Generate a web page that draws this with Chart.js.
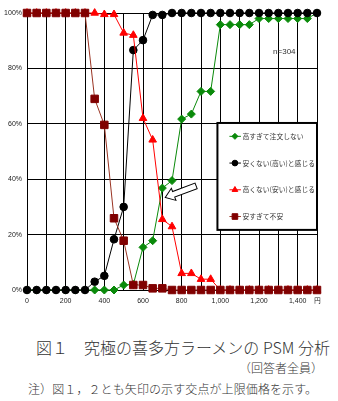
<!DOCTYPE html>
<html><head><meta charset="utf-8">
<script src="https://cdn.jsdelivr.net/npm/chart.js@4/dist/chart.umd.min.js"></script>
<style>
html,body{margin:0;padding:0;background:#fff;}
#wrap{position:relative;width:338px;height:401px;overflow:hidden;}
#c{position:absolute;left:0;top:0;}
.t{position:absolute;white-space:nowrap;line-height:1;color:#333;font-family:'Noto Sans CJK JP',sans-serif;font-weight:300;}
#cap1{left:36px;top:339px;font-size:16px;}
#cap2{right:15px;top:362px;font-size:12px;}
#cap3{left:28px;top:383px;font-size:12px;letter-spacing:0.1px;}
</style></head>
<body>
<div id="wrap">
<canvas id="c" width="338" height="310"></canvas>
<div class="t" id="cap1">図１　究極の喜多方ラーメンの PSM 分析</div>
<div class="t" id="cap2">（回答者全員）</div>
<div class="t" id="cap3">注）図１，２とも矢印の示す交点が上限価格を示す。</div>
</div>
<script>
const prices = [0,50,100,150,200,250,300,350,400,450,500,550,600,650,700,750,800,850,900,950,1000,1050,1100,1150,1200,1250,1300,1350,1400,1450,1500];
const seriesNames = ['高すぎて注文しない','安くない(高い)と感じる','高くない(安い)と感じる','安すぎて不安'];
const tooExpensive = [0,0,0,0,0,0,0,0,0,0,1.8,2,15.4,17.8,36.8,39.5,61.7,63.5,71.7,71.7,95.8,95.8,95.8,95.8,98,98,98,98,98,98,100];
const notCheap = [0,0,0,0,0,0,0,3,5.1,18.3,30,86.6,90.2,99.3,99.3,100,100,100,100,100,100,100,100,100,100,100,100,100,100,100,100];
const notExpensive = [100,100,100,100,100,100,100,100,99.5,99.5,92.8,92,62,54.2,25.5,22.9,6,6,3.9,3.9,0,0,0,0,0,0,0,0,0,0,0];
const tooCheap = [100,100,100,100,100,100,100,69,59.6,25.9,17.8,1.8,1.8,0.6,0.6,0,0,0,0,0,0,0,0,0,0,0,0,0,0,0,0];
const yTicks = [0,20,40,60,80,100];
const xTickLabels = {0:'0',200:'200',400:'400',600:'600',800:'800',1000:'1,000',1200:'1,200',1400:'1,400',1500:'円'};
const sampleNote = 'n=304';

const toPts = arr => prices.map((p,i)=>({x:p,y:arr[i]}));
const styles = [
  {color:'#0a8a0a', line:'#0a8a0a', style:'rectRot', r:4},
  {color:'#000000', line:'#000000', style:'circle', r:3.8},
  {color:'#ff0000', line:'#ff0000', style:'triangle', r:4.4},
  {color:'#800000', line:'#993322', style:'rect', r:5.3}
];
const allData = [tooExpensive, notCheap, notExpensive, tooCheap];
const orders = [3,2,1,0];
const datasets = allData.map((d,i)=>({
  label: seriesNames[i],
  data: toPts(d),
  borderColor: styles[i].line,
  backgroundColor: styles[i].color,
  pointBackgroundColor: styles[i].color,
  pointBorderColor: styles[i].color,
  pointStyle: styles[i].style,
  pointRadius: styles[i].r,
  pointBorderWidth: 1,
  borderWidth: 1,
  tension: 0,
  clip: false,
  order: orders[i]
}));

function drawMarker(ctx, style, x, y, r, color){
  ctx.save();
  ctx.fillStyle = color; ctx.strokeStyle = color; ctx.lineWidth = 1;
  ctx.beginPath();
  if(style==='circle'){ ctx.arc(x,y,r,0,Math.PI*2); }
  else if(style==='rect'){ const s=r*Math.SQRT1_2; ctx.rect(x-s,y-s,2*s,2*s); }
  else if(style==='rectRot'){ ctx.moveTo(x,y-r); ctx.lineTo(x+r,y); ctx.lineTo(x,y+r); ctx.lineTo(x-r,y); ctx.closePath(); }
  else if(style==='triangle'){ ctx.moveTo(x,y-r); ctx.lineTo(x+r*0.866,y+r*0.5); ctx.lineTo(x-r*0.866,y+r*0.5); ctx.closePath(); }
  ctx.fill(); ctx.stroke();
  ctx.restore();
}

const overlay = {
  id:'overlay',
  afterDatasetsDraw(chart){
    const ctx = chart.ctx, xs = chart.scales.x, ys = chart.scales.y, ca = chart.chartArea;
    ctx.save();
    ctx.font = '8px "Liberation Sans Narrow","Liberation Sans",sans-serif';
    ctx.fillStyle = '#333'; ctx.textAlign='center'; ctx.textBaseline='middle';
    ctx.fillText(sampleNote, xs.getPixelForValue(1331), ys.getPixelForValue(86));
    ctx.restore();
    const tx = xs.getPixelForValue(715), ty = ys.getPixelForValue(33.4);
    const ang = Math.atan2(-11.7, 31);
    const pts = [[0,0],[9,-6.5],[9,-3],[33,-3],[33,3],[9,3],[9,6.5]];
    ctx.save();
    ctx.translate(tx,ty); ctx.rotate(ang);
    ctx.beginPath();
    pts.forEach((p,i)=> i?ctx.lineTo(p[0],p[1]):ctx.moveTo(p[0],p[1]));
    ctx.closePath();
    ctx.fillStyle='#fff'; ctx.fill();
    ctx.strokeStyle='#000'; ctx.lineWidth=1; ctx.stroke();
    ctx.restore();
    const lx = xs.getPixelForValue(985), rx = ca.right;
    const ty0 = ys.getPixelForValue(60.3), by = ys.getPixelForValue(21.7);
    ctx.save();
    ctx.fillStyle='#fff'; ctx.fillRect(lx,ty0,rx-lx,by-ty0);
    ctx.strokeStyle='#000'; ctx.lineWidth=2; ctx.strokeRect(lx,ty0,rx-lx,by-ty0);
    ctx.font = '6.8px "Noto Sans CJK JP",sans-serif';
    ctx.textAlign='left'; ctx.textBaseline='middle';
    const step = (by-ty0)/4;
    seriesNames.forEach((n,i)=>{
      const yy = ty0 + step*(i+0.5);
      ctx.strokeStyle = styles[i].line; ctx.lineWidth=1;
      ctx.beginPath(); ctx.moveTo(lx+12,yy); ctx.lineTo(lx+23.5,yy); ctx.stroke();
      drawMarker(ctx, styles[i].style, lx+17.5, yy, styles[i].r*0.75, styles[i].color);
      ctx.fillStyle='#333';
      ctx.fillText(n, lx+25, yy);
    });
    ctx.restore();
  }
};

new Chart(document.getElementById('c'), {
  type:'line',
  data:{datasets},
  options:{
    responsive:false, animation:false, devicePixelRatio:1,
    layout:{padding:{left:0,right:21,top:13,bottom:0}},
    plugins:{legend:{display:false}, tooltip:{enabled:false}},
    scales:{
      x:{type:'linear', min:0, max:1500,
        afterFit(s){ s.height = 20; },
        afterBuildTicks(s){ s.ticks = prices.filter(p=>p%100===0).map(v=>({value:v})); },
        grid:{color:'#000', lineWidth:1, drawTicks:false},
        border:{display:true,color:'#000',width:1},
        ticks:{autoSkip:false, maxRotation:0, padding:7, color:'#222',
          font:{family:'"Liberation Sans Narrow","Liberation Sans",sans-serif', size:7},
          callback:v=> xTickLabels[v] !== undefined ? xTickLabels[v] : ''}
      },
      y:{min:0,max:100,
        afterFit(s){ s.width = 27; },
        afterBuildTicks(s){ s.ticks = yTicks.map(v=>({value:v})); },
        grid:{color:'#000', lineWidth:1, drawTicks:false},
        border:{display:true,color:'#000',width:1},
        ticks:{padding:5, color:'#222',
          font:{family:'"Liberation Sans Narrow","Liberation Sans",sans-serif', size:7},
          callback:v=> v+'%'}
      }
    }
  },
  plugins:[overlay]
});
</script>
</body></html>
